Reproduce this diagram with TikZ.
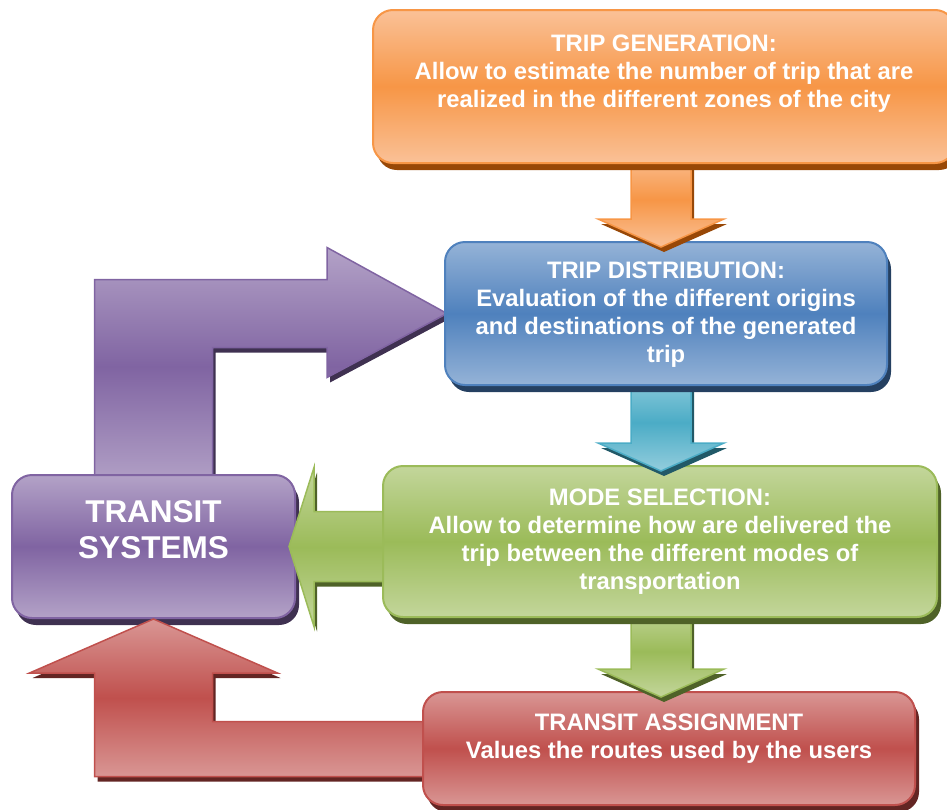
\documentclass[tikz,border=0pt]{standalone}
\usepackage{fontspec}
\setmainfont{Liberation Sans}
\usetikzlibrary{calc,shadows}

% colour sets: light edge, middle, shadow
\definecolor{orangelight}{HTML}{FAC197}
\definecolor{orangemid}{HTML}{F79646}
\definecolor{orangedark}{HTML}{984807}
\definecolor{bluelight}{HTML}{95B3D7}
\definecolor{bluemid}{HTML}{4F81BD}
\definecolor{bluedark}{HTML}{254061}
\definecolor{aqualight}{HTML}{93CDDD}
\definecolor{aquamid}{HTML}{4BACC6}
\definecolor{aquadark}{HTML}{215968}
\definecolor{greenlight}{HTML}{C3D69B}
\definecolor{greenmid}{HTML}{9BBB59}
\definecolor{greendark}{HTML}{4F6228}
\definecolor{purplelight}{HTML}{B3A2C7}
\definecolor{purplemid}{HTML}{8064A2}
\definecolor{purpledark}{HTML}{3F3151}
\definecolor{redlight}{HTML}{D99694}
\definecolor{redmid}{HTML}{C0504D}
\definecolor{reddark}{HTML}{632523}

% stacking order, bottom to top
\pgfdeclarelayer{l1}
\pgfdeclarelayer{l2}
\pgfdeclarelayer{l3}
\pgfdeclarelayer{l4}
\pgfdeclarelayer{l5}
\pgfsetlayers{l1,l2,l3,l4,l5,main}

\tikzset{
  stage/.style={rectangle, rounded corners=20pt, draw=#1mid, line width=2pt,
    top color=#1light, bottom color=#1light, middle color=#1mid,
    drop shadow={shadow xshift=4pt, shadow yshift=-7pt, fill=#1dark, opacity=1}},
  blockarrow/.style={draw=#1mid, line width=1.5pt, line join=miter,
    top color=#1light, bottom color=#1light, middle color=#1mid,
    drop shadow={shadow xshift=3pt, shadow yshift=-5pt, fill=#1dark, opacity=1}},
  stagetext/.style={text=white, align=center, inner sep=0pt,
    font=\fontsize{23.8}{28}\selectfont\bfseries},
}

% fat arrow going down from #2 to #3, axis at x=#4, colour set #1
\newcommand{\downblock}[4]{%
  \path[blockarrow=#1]
    ($(#4-30,0 |- #2.south)+(0,-12)$) -- ($(#4+30,0 |- #2.south)+(0,-12)$)
    -- ($(#4+30,0 |- #3.north)+(0,-22)$) -- ($(#4+63,0 |- #3.north)+(0,-22)$)
    -- ($(#4,0 |- #3.north)+(0,6)$)
    -- ($(#4-63,0 |- #3.north)+(0,-22)$) -- ($(#4-30,0 |- #3.north)+(0,-22)$)
    -- cycle;}

\begin{document}
\begin{tikzpicture}[x=1pt, y=-1pt]
  \useasboundingbox (0,0) rectangle (947,809);

  % =======================================================
  % PARAMETERS
  % =======================================================
  \def\Axis{661} % x of the downward arrows

  % =======================================================
  % 1. Stages
  % =======================================================
  \node[stage=orange, minimum width=582pt, minimum height=153pt] (gen) at (664,86.5) {};
  \node[stagetext] (gentext) at ([yshift=12.5pt]gen.center)
    {TRIP GENERATION:\\Allow to estimate the number of trip that are\\realized in the different zones of the city};

  \begin{pgfonlayer}{l5}
    \node[stage=blue, minimum width=442pt, minimum height=143pt] (dist) at (666,313.5) {};
    \node[stagetext] (disttext) at ([yshift=-1pt]dist.center)
      {TRIP DISTRIBUTION:\\Evaluation of the different origins\\and destinations of the generated\\trip};
  \end{pgfonlayer}

  \begin{pgfonlayer}{l4}
    \node[stage=green, minimum width=554pt, minimum height=151pt] (mode) at (660,541.5) {};
    \node[stagetext] (modetext) at (mode.center)
      {MODE SELECTION:\\Allow to determine how are delivered the\\trip between the different modes of\\transportation};
  \end{pgfonlayer}

  \begin{pgfonlayer}{l3}
    \node[stage=red, minimum width=492pt, minimum height=113pt] (assign) at (669,748.5) {};
    \node[stagetext] (assigntext) at ([yshift=9.5pt]assign.center)
      {TRANSIT ASSIGNMENT\\Values the routes used by the users};
  \end{pgfonlayer}

  \begin{pgfonlayer}{l2}
    \node[stage=purple, minimum width=283pt, minimum height=143pt] (transit) at (153.5,546.5) {};
    \node[stagetext, font=\fontsize{31.5}{36}\selectfont\bfseries] (transittext)
      at ([yshift=16.5pt]transit.center) {TRANSIT\\SYSTEMS};
  \end{pgfonlayer}

  % =======================================================
  % 2. Main chain (downward arrows)
  % =======================================================
  \begin{pgfonlayer}{l5}
    \downblock{orange}{gen}{dist}{\Axis}
  \end{pgfonlayer}
  \begin{pgfonlayer}{l4}
    \downblock{aqua}{dist}{mode}{\Axis}
  \end{pgfonlayer}
  \begin{pgfonlayer}{l3}
    \downblock{green}{mode}{assign}{\Axis}

    % mode selection -> transit systems
    \path[blockarrow=green]
      ($(mode.west |- transit.east)+(12,-35)$) -- ($(transit.east)+(18,-35)$)
      -- ($(transit.east)+(18,-79)$) -- ($(transit.east)+(-7,0)$)
      -- ($(transit.east)+(18,80)$) -- ($(transit.east)+(18,35)$)
      -- ($(mode.west |- transit.east)+(12,35)$) -- cycle;
  \end{pgfonlayer}

  % =======================================================
  % 3. Feedback loops
  % =======================================================
  % transit assignment -> transit systems
  \begin{pgfonlayer}{l2}
    \path[blockarrow=red]
      ($(assign.west)+(12,-27)$) -- ($(transit.south |- assign.west)+(59,-27)$)
      -- ($(transit.south)+(59,54)$) -- ($(transit.south)+(124,54)$)
      -- (transit.south)
      -- ($(transit.south)+(-124,54)$) -- ($(transit.south)+(-59,54)$)
      -- ($(transit.south |- assign.west)+(-59,28)$) -- ($(assign.west)+(12,28)$)
      -- cycle;
  \end{pgfonlayer}

  % transit systems -> trip distribution
  \begin{pgfonlayer}{l1}
    \path[blockarrow=purple]
      ($(transit.north)+(-59,12)$) -- ($(transit.north |- dist.west)+(-59,-34)$)
      -- ($(dist.west)+(-117,-34)$) -- ($(dist.west)+(-117,-66)$)
      -- ($(dist.west)+(3,0)$)
      -- ($(dist.west)+(-117,64)$) -- ($(dist.west)+(-117,34)$)
      -- ($(transit.north |- dist.west)+(59,34)$) -- ($(transit.north)+(59,12)$)
      -- cycle;
  \end{pgfonlayer}

\end{tikzpicture}
\end{document}
